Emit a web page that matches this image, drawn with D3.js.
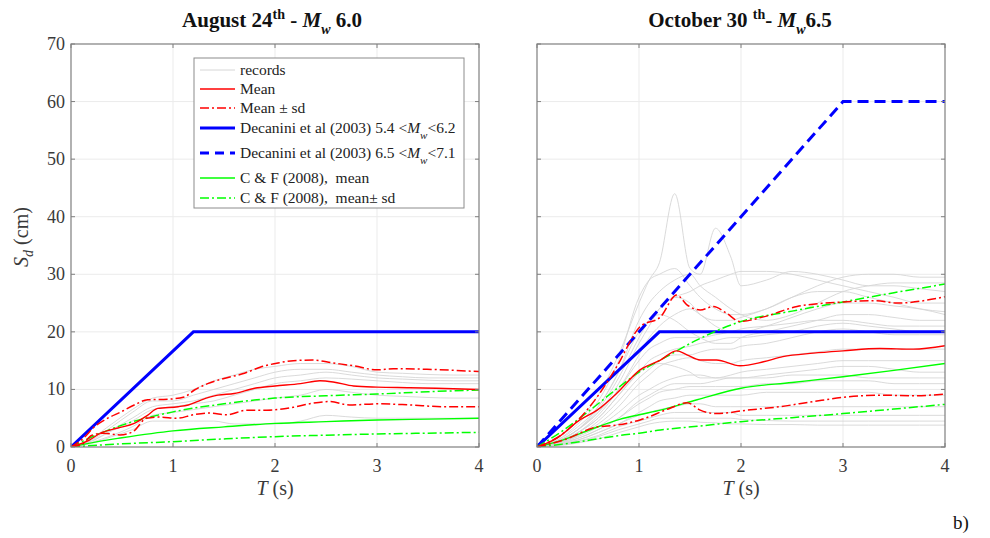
<!DOCTYPE html>
<html><head><meta charset="utf-8">
<script src="https://cdn.jsdelivr.net/npm/d3@7/dist/d3.min.js"></script>
<style>
body{margin:0;background:#fff;}
svg{display:block;font-family:"Liberation Serif","Times New Roman",serif;}
</style></head>
<body><svg id="c" width="990" height="538"></svg>
<script>
// ---------- DATA ----------
const xTicks = [0, 1, 2, 3, 4];
const yTicks = [0, 10, 20, 30, 40, 50, 60, 70];

// Decanini et al (2003) spectra (corner points)
const decT = [0, 1.2, 4];
const dec54 = [0, 20, 20];
const decT2 = [0, 3, 4];
const dec65 = [0, 60, 60];

// ---- August 24th (left) ----
const gridL = [0, .2, .4, .6, .8, 1.0, 1.2, 1.4, 1.6, 1.8, 2.0, 2.25, 2.5, 2.75, 3.0, 3.25, 3.5, 3.75, 4.0];
const recordsL = [
  [0,1.5,4,6.5,8.5,9,10,11.5,12.5,13.5,14,14.5,14.5,14,13,12.8,12.6,12.5,12.5],
  [0,1.2,3.5,6,8,8,9,10,11,12,13,13.5,13.5,13,12.5,12.2,12,12,12],
  [0,1,3,5,7,7.5,8,9,10,11,12,12.5,13,12.5,12,11.8,11.6,11.5,11.5],
  [0,1,2.8,4.5,6.5,7,7.5,8,9,10,11,11.5,12,11.8,11.5,11.2,11,11,11],
  [0,0.8,2,3.5,5.5,6,6.5,7,7.5,8,8.5,9,10,9.5,9,8.8,8.6,8.5,8.5],
  [0,0.6,1.8,3,4.5,4.5,4.5,4.5,4,4,4,4.5,5.5,5.2,5,5,5,5,5]
];
const meanLT = [0,0.18,0.29,0.46,0.62,0.75,0.85,1.05,1.15,1.28,1.44,1.6,1.8,2.0,2.25,2.44,2.57,2.77,3.0,3.32,3.58,4.0];
const meanL  = [0,1.2,2.4,3.3,4.1,5.5,6.7,7.0,7.3,8.2,9.0,9.3,10.2,10.6,11.0,11.5,11.3,10.6,10.4,10.3,10.2,10.0];
const upL_T = [0,0.12,0.23,0.36,0.49,0.62,0.75,0.95,1.11,1.21,1.34,1.5,1.7,1.86,2.03,2.18,2.37,2.57,2.77,3.0,3.16,3.49,4.0];
const upL   = [0,1.5,3.5,5.0,6.1,7.3,8.2,8.3,8.7,9.9,11.0,11.9,12.8,13.9,14.6,15.0,15.1,14.6,14.1,13.4,13.6,13.5,13.1];
const loL_T = [0,0.12,0.2,0.32,0.48,0.61,0.74,0.87,1.04,1.2,1.36,1.53,1.72,1.92,2.18,2.37,2.54,2.73,3.0,3.32,3.65,4.0];
const loL   = [0,0.6,2.0,2.4,2.1,2.7,5.0,5.2,5.0,5.6,5.9,5.6,6.4,6.4,6.9,7.6,7.9,7.3,7.5,7.3,7.0,7.0];
const cfT = [0, 0.25, 0.5, 1, 1.5, 2, 2.5, 3, 3.5, 4];
const cfMeanL = [0, 0.9, 1.6, 2.8, 3.5, 4.1, 4.4, 4.7, 4.85, 5.0];
const cfUpL   = [0, 2.1, 3.8, 6.1, 7.5, 8.5, 8.9, 9.2, 9.6, 9.9];
const cfLoL   = [0, 0.3, 0.55, 0.93, 1.4, 1.8, 2.05, 2.26, 2.4, 2.55];

// ---- October 30th (right) ----
const gridR = [0, .2, .4, .6, .8, 1.0, 1.1, 1.2, 1.35, 1.5, 1.6, 1.75, 1.9, 2.0, 2.25, 2.5, 2.75, 3.0, 3.25, 3.5, 3.75, 4.0];
const recordsR = [
  [0,1.5,4.5,9,16,25,29,32,44,31,30,38,33,28,29,30.5,30,29,28,28,27.5,27],
  [0,1.2,4,8,15,26,29,30,31,28,26,24,23,23,24,26,28,29.5,30,30,29.5,29.5],
  [0,1,3,7,13,22,25,27,29,30,28,26,24,23,22,23,25,27,28,28.5,28.5,28.5],
  [0,1,3,6,11,18,21,24,26,27,28,29,30,30.5,30.5,30,29,28,27,26,25,25],
  [0,1,3,6.5,12,19,22,24,26,25,23,22,22,22.5,24,26,27,27,26,25,24,23.5],
  [0,0.8,2.5,5.5,10,16,19,21,23,24,23,21,20,20,21,22.5,24,25,25,24.5,24,23],
  [0,1.2,3.5,7,13,20,22,23,22,20,19,18,18,19,20,21,22,23,23,22.5,22,22],
  [0,1,3,6,10,15,17,18,19,19,19,19.5,20,20.5,21,21.5,22,22,21.5,21,21,21],
  [0,0.8,2.5,5,9,13,15,16,17,17.5,18,18.5,19,19,19.5,20,21,21.5,21,20.5,20,20],
  [0,0.7,2,4.5,8,12,13.5,15,16,16,16.5,17,17,17.5,18,19,20,20.5,20,19.5,19.5,19.5],
  [0,0.6,2,4,7,11,12.5,14,15,15.5,15,14.5,14.5,15,15.5,16,16.5,17,17,17,17,17],
  [0,0.8,2.5,5,9,13,14,14.5,14,13,12,12,12.5,13,13.5,14,14.5,15,15,15,15,15],
  [0,0.6,1.8,3.5,6,9,10,11,12,12.5,12.5,12,12,12,12.5,13,13.5,14,14,13.5,13,13],
  [0,0.5,1.5,3,5,8,9,10,11,11,11,11.5,12,12,12,12.5,12.5,12.5,12,12,12,12],
  [0,0.5,1.5,3,5,7.5,8.5,9.5,10,10.5,10.5,10.5,10.5,10.5,11,11,11.5,11.5,11.5,11,11,11],
  [0,0.4,1.2,2.5,4,6,7,8,8.5,9,9,9,9,9,9.5,9.5,9.5,9.5,9.5,9,9,9],
  [0,0.4,1.2,2.5,4,5.5,6,6.5,7,7.5,7.5,7,7,7,7,7,7,7,7,7,7,7],
  [0,0.3,1,2,3.5,4.5,5,5.5,6,6,6,6,6,5.5,5.5,5.5,5.5,5.5,5.5,5.5,5.5,5.5],
  [0,0.3,0.9,1.8,3,4,4.5,5,5,5,5,5,5,4.8,4.6,4.5,4.5,4.5,4.5,4.5,4.5,4.5],
  [0,0.2,0.7,1.4,2.5,3.5,4,4.3,4.5,4.5,4.3,4.2,4,4,3.9,3.9,3.8,3.8,3.8,3.8,3.8,3.8]
];
const meanRT = [0,0.2,0.42,0.59,0.78,1.01,1.21,1.37,1.47,1.6,1.76,1.99,2.22,2.41,2.71,3.0,3.36,3.69,4.0];
const meanR  = [0,1.6,4.7,6.4,9.3,13.4,15.1,16.7,16.0,15.1,15.1,14.1,14.8,15.7,16.3,16.7,17.1,17.0,17.6];
const upR_T = [0,0.26,0.42,0.59,0.78,1.01,1.21,1.37,1.47,1.6,1.73,1.86,1.99,2.22,2.55,3.0,3.33,3.53,4.0];
const upR   = [0,2.4,5.0,8.7,13.9,20.9,22.6,26.4,24.7,23.8,24.4,23.2,21.8,22.6,24.4,25.2,25.4,25.0,26.1];
const loR_T = [0,0.26,0.59,0.78,1.01,1.3,1.47,1.6,1.76,2.06,2.38,2.71,3.04,3.36,3.69,4.0];
const loR   = [0,1.2,3.5,3.8,4.7,6.7,7.7,6.4,5.8,6.4,7.0,7.9,8.7,9.0,8.9,9.2];
const cfRT = [0, 0.25, 0.52, 0.81, 1.0, 1.21, 1.57, 2.0, 2.5, 3.0, 3.5, 4.0];
const cfMeanR = [0, 1.2, 3.0, 4.8, 5.6, 6.4, 8.2, 10.2, 11.2, 12.2, 13.3, 14.5];
const cfUpR   = [0, 2.8, 6.4, 10.5, 13.0, 15.1, 18.6, 21.8, 23.6, 25.2, 26.8, 28.3];
const cfLoR   = [0, 0.5, 1.2, 2.0, 2.4, 2.95, 3.6, 4.4, 5.1, 5.8, 6.6, 7.4];

// ---------- LAYOUT ----------
const svg = d3.select("#c");
const yTop = 44, yBot = 447;
const panels = [
  {x0: 71, x1: 479, yLabels: true, dashed: false, grid: gridL, recs: recordsL,
   mean: [meanLT, meanL], up: [upL_T, upL], lo: [loL_T, loL],
   cfm: [cfT, cfMeanL], cfu: [cfT, cfUpL], cfl: [cfT, cfLoL]},
  {x0: 537, x1: 945, yLabels: false, dashed: true, grid: gridR, recs: recordsR,
   mean: [meanRT, meanR], up: [upR_T, upR], lo: [loR_T, loR],
   cfm: [cfRT, cfMeanR], cfu: [cfRT, cfUpR], cfl: [cfRT, cfLoR]}
];
const y = d3.scaleLinear().domain([0, 70]).range([yBot, yTop]);
const axisCol = "#7f7f7f", textCol = "#3a3a3a";
const RED = "#ff0000", BLUE = "#0000ff", GREEN = "#00ff00", GRAY = "#d6d6d6";
const dashDot = "9,3,2,3";

panels.forEach((p, i) => {
  const x = d3.scaleLinear().domain([0, 4]).range([p.x0, p.x1]);
  const g = svg.append("g");
  // grid
  g.append("g").selectAll("line").data(xTicks.slice(1, -1)).join("line")
    .attr("x1", d => x(d)).attr("x2", d => x(d)).attr("y1", yTop).attr("y2", yBot)
    .attr("stroke", "#ebebeb").attr("stroke-width", 1);
  g.append("g").selectAll("line").data(yTicks.slice(1, -1)).join("line")
    .attr("x1", p.x0).attr("x2", p.x1).attr("y1", d => y(d)).attr("y2", d => y(d))
    .attr("stroke", "#ebebeb").attr("stroke-width", 1);

  const cid = "clip" + i;
  svg.append("clipPath").attr("id", cid).append("rect")
    .attr("x", p.x0).attr("y", yTop).attr("width", p.x1 - p.x0).attr("height", yBot - yTop);
  const d = g.append("g").attr("clip-path", `url(#${cid})`);
  const line = d3.line().x(v => x(v[0])).y(v => y(v[1])).curve(d3.curveMonotoneX);
  const lin = d3.line().x(v => x(v[0])).y(v => y(v[1]));
  const zip = (a, b) => a.map((t, k) => [t, b[k]]);

  p.recs.forEach(r => d.append("path").attr("d", line(zip(p.grid, r)))
    .attr("fill", "none").attr("stroke", GRAY).attr("stroke-width", 0.9));
  if (p.dashed) d.append("path").attr("d", lin(zip(decT2, dec65))).attr("fill", "none")
    .attr("stroke", BLUE).attr("stroke-width", 3).attr("stroke-dasharray", "11,6");
  d.append("path").attr("d", lin(zip(decT, dec54))).attr("fill", "none")
    .attr("stroke", BLUE).attr("stroke-width", 3);
  [[p.cfu, GREEN, dashDot], [p.cfl, GREEN, dashDot], [p.cfm, GREEN, null],
   [p.up, RED, dashDot], [p.lo, RED, dashDot], [p.mean, RED, null]].forEach(([s, c, da]) => {
    const path = d.append("path").attr("d", line(zip(s[0], s[1]))).attr("fill", "none")
      .attr("stroke", c).attr("stroke-width", da ? 1.5 : 1.4);
    if (da) path.attr("stroke-dasharray", da);
  });

  // box
  g.append("rect").attr("x", p.x0).attr("y", yTop).attr("width", p.x1 - p.x0).attr("height", yBot - yTop)
    .attr("fill", "none").attr("stroke", axisCol).attr("stroke-width", 1.2);
  // ticks (inward, all sides)
  const tl = 4;
  xTicks.forEach(t => {
    g.append("line").attr("x1", x(t)).attr("x2", x(t)).attr("y1", yBot).attr("y2", yBot - tl).attr("stroke", axisCol);
    g.append("line").attr("x1", x(t)).attr("x2", x(t)).attr("y1", yTop).attr("y2", yTop + tl).attr("stroke", axisCol);
    g.append("text").attr("x", x(t)).attr("y", 472).attr("text-anchor", "middle")
      .attr("font-size", 18).attr("fill", textCol).text(t);
  });
  yTicks.forEach(t => {
    g.append("line").attr("x1", p.x0).attr("x2", p.x0 + tl).attr("y1", y(t)).attr("y2", y(t)).attr("stroke", axisCol);
    g.append("line").attr("x1", p.x1).attr("x2", p.x1 - tl).attr("y1", y(t)).attr("y2", y(t)).attr("stroke", axisCol);
    if (p.yLabels) g.append("text").attr("x", p.x0 - 6).attr("y", y(t) + 6).attr("text-anchor", "end")
      .attr("font-size", 18).attr("fill", textCol).text(t);
  });
  // x label
  const xl = g.append("text").attr("x", (p.x0 + p.x1) / 2).attr("y", 495).attr("text-anchor", "middle")
    .attr("font-size", 20).attr("fill", textCol).attr("xml:space", "preserve");
  xl.append("tspan").attr("font-style", "italic").text("T");
  xl.append("tspan").text(" (s)");
});

// titles
function title(cx, date, sup, sep, mag) {
  const t = svg.append("text").attr("x", cx).attr("y", 27).attr("text-anchor", "middle")
    .attr("font-size", 21).attr("font-weight", "bold").attr("fill", "#111").attr("xml:space", "preserve");
  t.append("tspan").text(date);
  t.append("tspan").attr("font-size", 14).attr("dy", -8).text(sup);
  t.append("tspan").attr("dy", 8).text(sep);
  t.append("tspan").attr("font-style", "italic").text("M");
  t.append("tspan").attr("font-style", "italic").attr("font-size", 14).attr("dy", 7).text("w");
  t.append("tspan").attr("dy", -7).text(mag);
}
title(272, "August 24", "th", " - ", " 6.0");
title(740, "October 30 ", "th", "- ", "6.5");

// y label
const yl = svg.append("text").attr("transform", "translate(28,237) rotate(-90)").attr("text-anchor", "middle")
  .attr("font-size", 20).attr("fill", textCol).attr("xml:space", "preserve");
yl.append("tspan").attr("font-style", "italic").text("S");
yl.append("tspan").attr("font-style", "italic").attr("font-size", 14).attr("dy", 5).text("d");
yl.append("tspan").attr("dy", -5).text(" (cm)");

// legend
const lg = svg.append("g");
lg.append("rect").attr("x", 194).attr("y", 58).attr("width", 270).attr("height", 150)
  .attr("fill", "#fff").attr("stroke", "#8c8c8c").attr("stroke-width", 1);
const legendItems = [
  {y: 70, c: GRAY, w: 1, da: null, parts: [["records"]]},
  {y: 89, c: RED, w: 1.4, da: null, parts: [["Mean"]]},
  {y: 108, c: RED, w: 1.5, da: dashDot, parts: [["Mean ± sd"]]},
  {y: 128, c: BLUE, w: 3, da: null, parts: [["Decanini et al (2003) 5.4 <"], ["M", "i"], ["w", "s"], ["<6.2"]]},
  {y: 153, c: BLUE, w: 3, da: "9,6", parts: [["Decanini et al (2003) 6.5 <"], ["M", "i"], ["w", "s"], ["<7.1"]]},
  {y: 178, c: GREEN, w: 1.4, da: null, parts: [["C & F (2008),  mean"]]},
  {y: 198, c: GREEN, w: 1.5, da: dashDot, parts: [["C & F (2008),  mean± sd"]]}
];
legendItems.forEach(it => {
  const l = lg.append("line").attr("x1", 200).attr("x2", 235).attr("y1", it.y).attr("y2", it.y)
    .attr("stroke", it.c).attr("stroke-width", it.w);
  if (it.da) l.attr("stroke-dasharray", it.da);
  const t = lg.append("text").attr("x", 240).attr("y", it.y + 5).attr("font-size", 15.5).attr("fill", "#222")
    .attr("xml:space", "preserve");
  let sub = false;
  it.parts.forEach(([s, f]) => {
    const ts = t.append("tspan").text(s);
    if (f === "i") ts.attr("font-style", "italic");
    if (f === "s") { ts.attr("font-style", "italic").attr("font-size", 11).attr("dy", 6); sub = true; }
    else if (sub) { ts.attr("dy", -6); sub = false; }
  });
});

// panel tag
svg.append("text").attr("x", 953).attr("y", 529).attr("font-size", 19).attr("fill", "#111").text("b)");
</script>
</body></html>
